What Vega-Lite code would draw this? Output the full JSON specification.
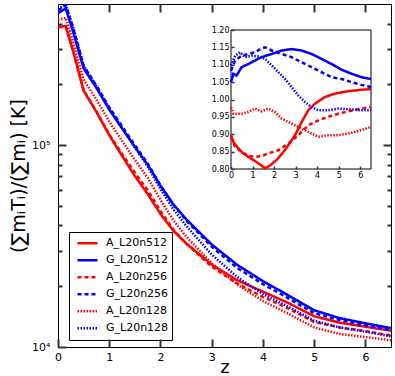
{
  "$schema": "https://vega.github.io/schema/vega-lite/v6.json",
  "width": 333,
  "height": 343,
  "autosize": {"type": "none"},
  "padding": {"left": 58, "top": 4, "right": 4, "bottom": 29},
  "config": {
    "view": {"stroke": "black", "strokeWidth": 1},
    "font": "DejaVu Sans",
    "axis": {"domainColor": "black", "labelColor": "black", "titleColor": "black", "grid": false, "labelFont": "DejaVu Sans", "titleFont": "DejaVu Sans", "titleFontWeight": "normal", "labelFlush": false, "labelOverlap": false, "ticks": true, "tickColor": "#333333", "tickWidth": 2, "tickOpacity": 1}
  },
  "datasets": {
    "main": [
      {"s": "G_L20n512", "z": 0, "T": 450000}, {"s": "G_L20n512", "z": 0.15, "T": 476000}, {"s": "G_L20n512", "z": 0.3, "T": 360000}, {"s": "G_L20n512", "z": 0.5, "T": 240000}, {"s": "G_L20n512", "z": 0.75, "T": 192000}, {"s": "G_L20n512", "z": 1.0, "T": 150000}, {"s": "G_L20n512", "z": 1.25, "T": 121000}, {"s": "G_L20n512", "z": 1.5, "T": 98000}, {"s": "G_L20n512", "z": 1.75, "T": 80000}, {"s": "G_L20n512", "z": 2.0, "T": 63000}, {"s": "G_L20n512", "z": 2.25, "T": 51000}, {"s": "G_L20n512", "z": 2.5, "T": 43000}, {"s": "G_L20n512", "z": 3.0, "T": 32200}, {"s": "G_L20n512", "z": 3.5, "T": 25500}, {"s": "G_L20n512", "z": 4.0, "T": 21200}, {"s": "G_L20n512", "z": 4.5, "T": 18000}, {"s": "G_L20n512", "z": 5.0, "T": 15200}, {"s": "G_L20n512", "z": 5.5, "T": 13900}, {"s": "G_L20n512", "z": 6.0, "T": 13100}, {"s": "G_L20n512", "z": 6.5, "T": 12400},
      {"s": "A_L20n512", "z": 0, "T": 384000}, {"s": "A_L20n512", "z": 0.15, "T": 389000}, {"s": "A_L20n512", "z": 0.3, "T": 290000}, {"s": "A_L20n512", "z": 0.5, "T": 186000}, {"s": "A_L20n512", "z": 0.75, "T": 146000}, {"s": "A_L20n512", "z": 1.0, "T": 112000}, {"s": "A_L20n512", "z": 1.25, "T": 88500}, {"s": "A_L20n512", "z": 1.5, "T": 70300}, {"s": "A_L20n512", "z": 1.75, "T": 57300}, {"s": "A_L20n512", "z": 2.0, "T": 45600}, {"s": "A_L20n512", "z": 2.25, "T": 37700}, {"s": "A_L20n512", "z": 2.5, "T": 32600}, {"s": "A_L20n512", "z": 3.0, "T": 25600}, {"s": "A_L20n512", "z": 3.5, "T": 21400}, {"s": "A_L20n512", "z": 4.0, "T": 18800}, {"s": "A_L20n512", "z": 4.5, "T": 16500}, {"s": "A_L20n512", "z": 5.0, "T": 14200}, {"s": "A_L20n512", "z": 5.5, "T": 13200}, {"s": "A_L20n512", "z": 6.0, "T": 12600}, {"s": "A_L20n512", "z": 6.5, "T": 12050},
      {"s": "G_L20n256", "z": 0, "T": 464000}, {"s": "G_L20n256", "z": 0.15, "T": 494000}, {"s": "G_L20n256", "z": 0.3, "T": 377000}, {"s": "G_L20n256", "z": 0.5, "T": 247000}, {"s": "G_L20n256", "z": 0.75, "T": 197000}, {"s": "G_L20n256", "z": 1.0, "T": 154000}, {"s": "G_L20n256", "z": 1.25, "T": 124000}, {"s": "G_L20n256", "z": 1.5, "T": 100000}, {"s": "G_L20n256", "z": 1.75, "T": 81100}, {"s": "G_L20n256", "z": 2.0, "T": 63200}, {"s": "G_L20n256", "z": 2.25, "T": 50700}, {"s": "G_L20n256", "z": 2.5, "T": 42400}, {"s": "G_L20n256", "z": 3.0, "T": 31400}, {"s": "G_L20n256", "z": 3.5, "T": 24600}, {"s": "G_L20n256", "z": 4.0, "T": 20500}, {"s": "G_L20n256", "z": 4.5, "T": 17400}, {"s": "G_L20n256", "z": 5.0, "T": 14700}, {"s": "G_L20n256", "z": 5.5, "T": 13600}, {"s": "G_L20n256", "z": 6.0, "T": 12800}, {"s": "G_L20n256", "z": 6.5, "T": 12100},
      {"s": "A_L20n256", "z": 0, "T": 383000}, {"s": "A_L20n256", "z": 0.15, "T": 387000}, {"s": "A_L20n256", "z": 0.3, "T": 289000}, {"s": "A_L20n256", "z": 0.5, "T": 187000}, {"s": "A_L20n256", "z": 0.75, "T": 147000}, {"s": "A_L20n256", "z": 1.0, "T": 113000}, {"s": "A_L20n256", "z": 1.25, "T": 90500}, {"s": "A_L20n256", "z": 1.5, "T": 73100}, {"s": "A_L20n256", "z": 1.75, "T": 59900}, {"s": "A_L20n256", "z": 2.0, "T": 47200}, {"s": "A_L20n256", "z": 2.25, "T": 38200}, {"s": "A_L20n256", "z": 2.5, "T": 32600}, {"s": "A_L20n256", "z": 3.0, "T": 25000}, {"s": "A_L20n256", "z": 3.5, "T": 20600}, {"s": "A_L20n256", "z": 4.0, "T": 17700}, {"s": "A_L20n256", "z": 4.5, "T": 15500}, {"s": "A_L20n256", "z": 5.0, "T": 13300}, {"s": "A_L20n256", "z": 5.5, "T": 12500}, {"s": "A_L20n256", "z": 6.0, "T": 12000}, {"s": "A_L20n256", "z": 6.5, "T": 11400},
      {"s": "G_L20n128", "z": 0, "T": 471000}, {"s": "G_L20n128", "z": 0.15, "T": 498000}, {"s": "G_L20n128", "z": 0.3, "T": 380000}, {"s": "G_L20n128", "z": 0.5, "T": 248000}, {"s": "G_L20n128", "z": 0.75, "T": 196000}, {"s": "G_L20n128", "z": 1.0, "T": 152000}, {"s": "G_L20n128", "z": 1.25, "T": 122000}, {"s": "G_L20n128", "z": 1.5, "T": 97600}, {"s": "G_L20n128", "z": 1.75, "T": 78500}, {"s": "G_L20n128", "z": 2.0, "T": 60600}, {"s": "G_L20n128", "z": 2.25, "T": 48100}, {"s": "G_L20n128", "z": 2.5, "T": 39900}, {"s": "G_L20n128", "z": 3.0, "T": 28700}, {"s": "G_L20n128", "z": 3.5, "T": 22200}, {"s": "G_L20n128", "z": 4.0, "T": 18300}, {"s": "G_L20n128", "z": 4.5, "T": 15800}, {"s": "G_L20n128", "z": 5.0, "T": 13500}, {"s": "G_L20n128", "z": 5.5, "T": 12500}, {"s": "G_L20n128", "z": 6.0, "T": 11900}, {"s": "G_L20n128", "z": 6.5, "T": 11300},
      {"s": "A_L20n128", "z": 0, "T": 419000}, {"s": "A_L20n128", "z": 0.15, "T": 427000}, {"s": "A_L20n128", "z": 0.3, "T": 322000}, {"s": "A_L20n128", "z": 0.5, "T": 211000}, {"s": "A_L20n128", "z": 0.75, "T": 168000}, {"s": "A_L20n128", "z": 1.0, "T": 131000}, {"s": "A_L20n128", "z": 1.25, "T": 105000}, {"s": "A_L20n128", "z": 1.5, "T": 84400}, {"s": "A_L20n128", "z": 1.75, "T": 68900}, {"s": "A_L20n128", "z": 2.0, "T": 53600}, {"s": "A_L20n128", "z": 2.25, "T": 42500}, {"s": "A_L20n128", "z": 2.5, "T": 35300}, {"s": "A_L20n128", "z": 3.0, "T": 26000}, {"s": "A_L20n128", "z": 3.5, "T": 20400}, {"s": "A_L20n128", "z": 4.0, "T": 16900}, {"s": "A_L20n128", "z": 4.5, "T": 14600}, {"s": "A_L20n128", "z": 5.0, "T": 12500}, {"s": "A_L20n128", "z": 5.5, "T": 11600}, {"s": "A_L20n128", "z": 6.0, "T": 11200}, {"s": "A_L20n128", "z": 6.5, "T": 10800}
    ],
    "inset": [
      {"s": "A_L20n512", "z": 0, "r": 0.897}, {"s": "A_L20n512", "z": 0.11, "r": 0.878}, {"s": "A_L20n512", "z": 0.34, "r": 0.859}, {"s": "A_L20n512", "z": 0.57, "r": 0.845}, {"s": "A_L20n512", "z": 0.8, "r": 0.835}, {"s": "A_L20n512", "z": 1.11, "r": 0.823}, {"s": "A_L20n512", "z": 1.42, "r": 0.81}, {"s": "A_L20n512", "z": 1.58, "r": 0.802}, {"s": "A_L20n512", "z": 1.81, "r": 0.81}, {"s": "A_L20n512", "z": 2.12, "r": 0.826}, {"s": "A_L20n512", "z": 2.5, "r": 0.854}, {"s": "A_L20n512", "z": 2.97, "r": 0.897}, {"s": "A_L20n512", "z": 3.28, "r": 0.935}, {"s": "A_L20n512", "z": 3.59, "r": 0.969}, {"s": "A_L20n512", "z": 3.9, "r": 0.988}, {"s": "A_L20n512", "z": 4.36, "r": 1.007}, {"s": "A_L20n512", "z": 4.82, "r": 1.017}, {"s": "A_L20n512", "z": 5.44, "r": 1.024}, {"s": "A_L20n512", "z": 6.06, "r": 1.028}, {"s": "A_L20n512", "z": 6.5, "r": 1.03},
      {"s": "G_L20n512", "z": 0, "r": 1.05}, {"s": "G_L20n512", "z": 0.11, "r": 1.074}, {"s": "G_L20n512", "z": 0.26, "r": 1.069}, {"s": "G_L20n512", "z": 0.49, "r": 1.093}, {"s": "G_L20n512", "z": 0.8, "r": 1.102}, {"s": "G_L20n512", "z": 1.11, "r": 1.112}, {"s": "G_L20n512", "z": 1.42, "r": 1.122}, {"s": "G_L20n512", "z": 1.89, "r": 1.131}, {"s": "G_L20n512", "z": 2.35, "r": 1.141}, {"s": "G_L20n512", "z": 2.81, "r": 1.145}, {"s": "G_L20n512", "z": 3.28, "r": 1.141}, {"s": "G_L20n512", "z": 3.74, "r": 1.131}, {"s": "G_L20n512", "z": 4.2, "r": 1.117}, {"s": "G_L20n512", "z": 4.67, "r": 1.102}, {"s": "G_L20n512", "z": 5.13, "r": 1.086}, {"s": "G_L20n512", "z": 5.6, "r": 1.074}, {"s": "G_L20n512", "z": 6.06, "r": 1.064}, {"s": "G_L20n512", "z": 6.5, "r": 1.059},
      {"s": "G_L20n256", "z": 0, "r": 1.083}, {"s": "G_L20n256", "z": 0.19, "r": 1.112}, {"s": "G_L20n256", "z": 0.49, "r": 1.126}, {"s": "G_L20n256", "z": 0.8, "r": 1.131}, {"s": "G_L20n256", "z": 1.11, "r": 1.136}, {"s": "G_L20n256", "z": 1.42, "r": 1.147}, {"s": "G_L20n256", "z": 1.58, "r": 1.15}, {"s": "G_L20n256", "z": 1.89, "r": 1.141}, {"s": "G_L20n256", "z": 2.35, "r": 1.131}, {"s": "G_L20n256", "z": 2.81, "r": 1.122}, {"s": "G_L20n256", "z": 3.28, "r": 1.107}, {"s": "G_L20n256", "z": 3.74, "r": 1.093}, {"s": "G_L20n256", "z": 4.2, "r": 1.079}, {"s": "G_L20n256", "z": 4.67, "r": 1.064}, {"s": "G_L20n256", "z": 5.13, "r": 1.059}, {"s": "G_L20n256", "z": 5.6, "r": 1.05}, {"s": "G_L20n256", "z": 6.06, "r": 1.042}, {"s": "G_L20n256", "z": 6.5, "r": 1.036},
      {"s": "A_L20n256", "z": 0, "r": 0.893}, {"s": "A_L20n256", "z": 0.19, "r": 0.864}, {"s": "A_L20n256", "z": 0.49, "r": 0.85}, {"s": "A_L20n256", "z": 0.8, "r": 0.838}, {"s": "A_L20n256", "z": 1.11, "r": 0.835}, {"s": "A_L20n256", "z": 1.42, "r": 0.837}, {"s": "A_L20n256", "z": 1.73, "r": 0.845}, {"s": "A_L20n256", "z": 2.19, "r": 0.854}, {"s": "A_L20n256", "z": 2.66, "r": 0.873}, {"s": "A_L20n256", "z": 3.12, "r": 0.897}, {"s": "A_L20n256", "z": 3.59, "r": 0.926}, {"s": "A_L20n256", "z": 4.05, "r": 0.94}, {"s": "A_L20n256", "z": 4.51, "r": 0.95}, {"s": "A_L20n256", "z": 4.98, "r": 0.959}, {"s": "A_L20n256", "z": 5.44, "r": 0.966}, {"s": "A_L20n256", "z": 6.06, "r": 0.974}, {"s": "A_L20n256", "z": 6.5, "r": 0.978},
      {"s": "G_L20n128", "z": 0, "r": 1.098}, {"s": "G_L20n128", "z": 0.19, "r": 1.126}, {"s": "G_L20n128", "z": 0.42, "r": 1.136}, {"s": "G_L20n128", "z": 0.65, "r": 1.122}, {"s": "G_L20n128", "z": 0.96, "r": 1.126}, {"s": "G_L20n128", "z": 1.27, "r": 1.124}, {"s": "G_L20n128", "z": 1.58, "r": 1.117}, {"s": "G_L20n128", "z": 1.89, "r": 1.098}, {"s": "G_L20n128", "z": 2.19, "r": 1.079}, {"s": "G_L20n128", "z": 2.5, "r": 1.06}, {"s": "G_L20n128", "z": 2.81, "r": 1.036}, {"s": "G_L20n128", "z": 3.12, "r": 1.012}, {"s": "G_L20n128", "z": 3.43, "r": 0.993}, {"s": "G_L20n128", "z": 3.74, "r": 0.978}, {"s": "G_L20n128", "z": 4.05, "r": 0.969}, {"s": "G_L20n128", "z": 4.51, "r": 0.969}, {"s": "G_L20n128", "z": 4.98, "r": 0.974}, {"s": "G_L20n128", "z": 5.44, "r": 0.972}, {"s": "G_L20n128", "z": 6.06, "r": 0.969}, {"s": "G_L20n128", "z": 6.5, "r": 0.969},
      {"s": "A_L20n128", "z": 0, "r": 0.978}, {"s": "A_L20n128", "z": 0.11, "r": 0.959}, {"s": "A_L20n128", "z": 0.49, "r": 0.959}, {"s": "A_L20n128", "z": 0.8, "r": 0.964}, {"s": "A_L20n128", "z": 1.11, "r": 0.974}, {"s": "A_L20n128", "z": 1.42, "r": 0.966}, {"s": "A_L20n128", "z": 1.73, "r": 0.974}, {"s": "A_L20n128", "z": 2.04, "r": 0.964}, {"s": "A_L20n128", "z": 2.35, "r": 0.945}, {"s": "A_L20n128", "z": 2.81, "r": 0.931}, {"s": "A_L20n128", "z": 3.28, "r": 0.916}, {"s": "A_L20n128", "z": 3.74, "r": 0.902}, {"s": "A_L20n128", "z": 4.05, "r": 0.893}, {"s": "A_L20n128", "z": 4.51, "r": 0.897}, {"s": "A_L20n128", "z": 4.98, "r": 0.897}, {"s": "A_L20n128", "z": 5.44, "r": 0.902}, {"s": "A_L20n128", "z": 6.06, "r": 0.912}, {"s": "A_L20n128", "z": 6.5, "r": 0.921}
    ]
  },
  "layer": [
    {
      "data": {"name": "main"},
      "layer": [
        {
          "mark": {"type": "line", "clip": true},
          "encoding": {
            "x": {"field": "z", "type": "quantitative", "scale": {"domain": [0, 6.5], "nice": false, "zero": false},
              "axis": {"orient": "bottom", "offset": -8, "values": [0, 1, 2, 3, 4, 5, 6], "tickSize": 8, "tickColor": "#333333", "tickWidth": 2, "domain": false, "labelPadding": 4, "labelFontSize": 11, "zindex": 1,
                "title": "z", "titleFontSize": 18, "titleX": 166.5, "titleY": 33, "titleBaseline": "alphabetic", "titleAlign": "center"}},
            "y": {"field": "T", "type": "quantitative", "scale": {"type": "log", "domain": [10000, 500000], "nice": false},
              "axis": {"orient": "left", "offset": -8, "values": [10000, 100000],
                "labelExpr": "datum.value == 10000 ? '10⁴' : '10⁵'",
                "tickSize": 8, "tickColor": "#333333", "tickWidth": 2, "domain": false, "labelPadding": 8, "labelFontSize": 11, "zindex": 1,
                "title": "(∑mᵢTᵢ)/(∑mᵢ) [K]", "titleFontSize": 19, "titleAngle": -90, "titleX": -48, "titleY": 171.5, "titleAlign": "center", "titleBaseline": "middle"}},
            "color": {"field": "s", "type": "nominal",
              "scale": {"domain": ["A_L20n512", "G_L20n512", "A_L20n256", "G_L20n256", "A_L20n128", "G_L20n128"], "range": ["#ff0000", "#0000ff", "#ff0000", "#0000ff", "#ff0000", "#0000ff"]},
              "legend": {"orient": "none", "legendX": 11, "legendY": 228, "title": null, "strokeColor": "black", "fillColor": "white", "padding": 3, "labelFontSize": 11, "labelFont": "DejaVu Sans", "labelColor": "black", "symbolType": "stroke", "symbolSize": 400, "symbolOffset": 4, "labelOffset": 7, "clipHeight": 16.5, "rowPadding": 0, "cornerRadius": 0}},
            "strokeDash": {"field": "s", "type": "nominal",
              "scale": {"domain": ["A_L20n512", "G_L20n512", "A_L20n256", "G_L20n256", "A_L20n128", "G_L20n128"], "range": [[1, 0], [1, 0], [4, 3], [4, 3], [1.5, 1.5], [1.5, 1.5]]},
              "legend": {"orient": "none", "legendX": 11, "legendY": 228, "title": null}},
            "strokeWidth": {"field": "s", "type": "nominal",
              "scale": {"domain": ["A_L20n512", "G_L20n512", "A_L20n256", "G_L20n256", "A_L20n128", "G_L20n128"], "range": [2.5, 2.5, 2.5, 2.5, 1.2, 1.2]},
              "legend": {"orient": "none", "legendX": 11, "legendY": 228, "title": null}}
          }
        },
        {
          "mark": {"type": "line", "opacity": 0},
          "encoding": {
            "x": {"field": "z", "type": "quantitative", "scale": {"domain": [0, 6.5], "nice": false, "zero": false},
              "axis": {"orient": "top", "offset": -8, "values": [1, 2, 3, 4, 5, 6], "tickSize": 8, "tickColor": "#333333", "tickWidth": 2, "labels": false, "domain": false, "title": null, "zindex": 1}},
            "y": {"field": "T", "type": "quantitative", "scale": {"type": "log", "domain": [10000, 500000], "nice": false},
              "axis": {"orient": "right", "offset": -8, "values": [100000], "tickSize": 8, "tickColor": "#333333", "tickWidth": 2, "labels": false, "domain": false, "title": null, "zindex": 1}},
            "detail": {"field": "s", "type": "nominal"}
          }
        },
        {
          "mark": {"type": "line", "opacity": 0},
          "encoding": {
            "x": {"field": "z", "type": "quantitative", "scale": {"domain": [0, 6.5], "nice": false, "zero": false}, "axis": null},
            "y": {"field": "T", "type": "quantitative", "scale": {"type": "log", "domain": [10000, 500000], "nice": false},
              "axis": {"orient": "left", "offset": -4, "values": [20000, 30000, 40000, 50000, 60000, 70000, 80000, 90000, 200000, 300000, 400000], "tickSize": 4, "tickColor": "#333333", "tickWidth": 2, "labels": false, "domain": false, "title": null, "zindex": 1}},
            "detail": {"field": "s", "type": "nominal"}
          }
        },
        {
          "mark": {"type": "line", "opacity": 0},
          "encoding": {
            "x": {"field": "z", "type": "quantitative", "scale": {"domain": [0, 6.5], "nice": false, "zero": false}, "axis": null},
            "y": {"field": "T", "type": "quantitative", "scale": {"type": "log", "domain": [10000, 500000], "nice": false},
              "axis": {"orient": "right", "offset": -4, "values": [20000, 30000, 40000, 50000, 60000, 70000, 80000, 90000, 200000, 300000, 400000], "tickSize": 4, "tickColor": "#333333", "tickWidth": 2, "labels": false, "domain": false, "title": null, "zindex": 1}},
            "detail": {"field": "s", "type": "nominal"}
          }
        }
      ],
      "resolve": {"axis": {"x": "independent", "y": "independent"}}
    },
    {
      "layer": [
        {
          "data": {"values": [{}]},
          "mark": {"type": "rect", "fill": "white", "stroke": "black", "strokeWidth": 1},
          "encoding": {
            "x": {"datum": 0, "type": "quantitative", "scale": {"domain": [0, 6.5], "range": [173, 313], "nice": false, "zero": false},
              "axis": {"orient": "bottom", "offset": -181, "values": [0, 1, 2, 3, 4, 5, 6], "tickSize": 3, "tickColor": "#333333", "tickWidth": 1.5, "labelPadding": 2, "labelFontSize": 8, "domain": false, "title": null, "zindex": 1}},
            "x2": {"datum": 6.5},
            "y": {"datum": 0.8, "type": "quantitative", "scale": {"domain": [0.8, 1.2], "range": [165, 26], "nice": false, "zero": false},
              "axis": {"orient": "left", "offset": -176, "values": [0.8, 0.85, 0.9, 0.95, 1.0, 1.05, 1.1, 1.15, 1.2], "format": ".2f", "tickSize": 3, "tickColor": "#333333", "tickWidth": 1.5, "labelPadding": 2, "labelFontSize": 8, "domain": false, "title": null, "zindex": 1}},
            "y2": {"datum": 1.2}
          }
        },
        {
          "data": {"name": "inset"},
          "mark": {"type": "line"},
          "encoding": {
            "x": {"field": "z", "type": "quantitative", "scale": {"domain": [0, 6.5], "range": [173, 313], "nice": false, "zero": false},
              "axis": {"orient": "bottom", "offset": -181, "values": [0, 1, 2, 3, 4, 5, 6], "tickSize": 3, "tickColor": "#333333", "tickWidth": 1.5, "labelPadding": 2, "labelFontSize": 8, "domain": false, "title": null, "zindex": 1}},
            "y": {"field": "r", "type": "quantitative", "scale": {"domain": [0.8, 1.2], "range": [165, 26], "nice": false, "zero": false},
              "axis": {"orient": "left", "offset": -176, "values": [0.8, 0.85, 0.9, 0.95, 1.0, 1.05, 1.1, 1.15, 1.2], "format": ".2f", "tickSize": 3, "tickColor": "#333333", "tickWidth": 1.5, "labelPadding": 2, "labelFontSize": 8, "domain": false, "title": null, "zindex": 1}},
            "color": {"field": "s", "type": "nominal", "legend": null},
            "strokeDash": {"field": "s", "type": "nominal", "legend": null},
            "strokeWidth": {"field": "s", "type": "nominal", "legend": null}
          }
        }
      ]
    }
  ],
  "resolve": {"scale": {"x": "independent", "y": "independent"}}
}
